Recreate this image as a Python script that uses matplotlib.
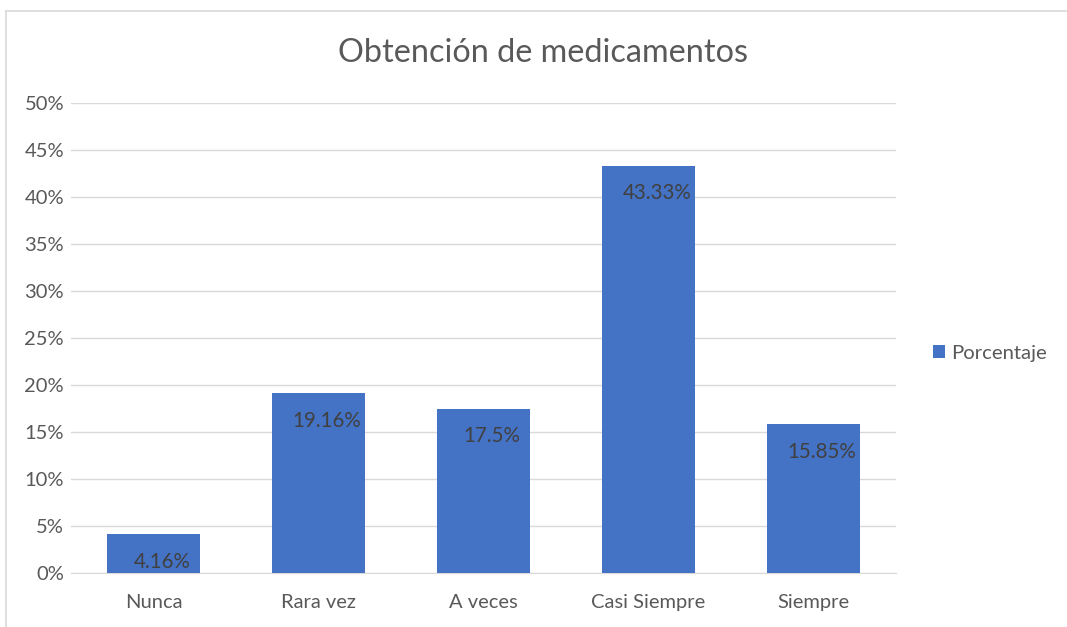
import matplotlib
matplotlib.use("Agg")
import matplotlib.pyplot as plt
from matplotlib.lines import Line2D

categories = ["Nunca", "Rara vez", "A veces", "Casi Siempre", "Siempre"]
values = [4.16, 19.16, 17.5, 43.33, 15.85]
labels = ["4.16%", "19.16%", "17.5%", "43.33%", "15.85%"]
yticks = [0, 5, 10, 15, 20, 25, 30, 35, 40, 45, 50]
series_name = "Porcentaje"

plt.rcParams['font.family'] = ['Lato', 'DejaVu Sans']
txt = "#595959"
bar_color = "#4472C4"

W, H = 1067, 627
fig = plt.figure(figsize=(W / 100, H / 100), dpi=100)
ax = fig.add_axes([71 / W, (H - 573) / H, 825 / W, 470 / H])

x = list(range(len(categories)))
bars = ax.bar(x, values, width=0.565, color=bar_color, zorder=3, label=series_name)
ax.set_xlim(-0.5, len(categories) - 0.5)
ax.set_ylim(0, 50)
ax.set_yticks(yticks)
ax.set_yticklabels([f"{t}%" for t in yticks])
ax.set_xticks(x)
ax.set_xticklabels(categories)
ax.yaxis.grid(True, color="#D9D9D9", linewidth=1.0, zorder=0)
for s in ["top", "right", "left"]:
    ax.spines[s].set_visible(False)
ax.spines["bottom"].set_color("#D9D9D9")
ax.tick_params(axis="both", length=0, colors=txt, labelsize=14.5)
ax.tick_params(axis="x", pad=15)
ax.tick_params(axis="y", pad=5)

for xi, v, lab in zip(x, values, labels):
    ax.annotate(lab, (xi, v), xytext=(6, -20), textcoords="offset points",
                ha="center", va="center", fontsize=14.8, color="#404040", zorder=4)

fig.text(543 / W, 1 - 53 / H, "Obtención de medicamentos", ha="center", va="center",
         fontsize=23.3, color=txt)

leg = fig.legend(handles=[bars], labels=[series_name], loc="center left",
                 bbox_to_anchor=(915 / W, 1 - 353 / H), frameon=False,
                 handlelength=0.6, handleheight=0.6, handletextpad=0.3,
                 fontsize=14.6, labelcolor=txt)

fig.add_artist(Line2D([5.5 / W, 5.5 / W], [0, 1 - 10.5 / H], transform=fig.transFigure,
                      color="#D9D9D9", linewidth=1.2))
fig.add_artist(Line2D([5.5 / W, 1], [1 - 10.5 / H, 1 - 10.5 / H], transform=fig.transFigure,
                      color="#D9D9D9", linewidth=1.2))

fig.savefig("out.png", dpi=100)
